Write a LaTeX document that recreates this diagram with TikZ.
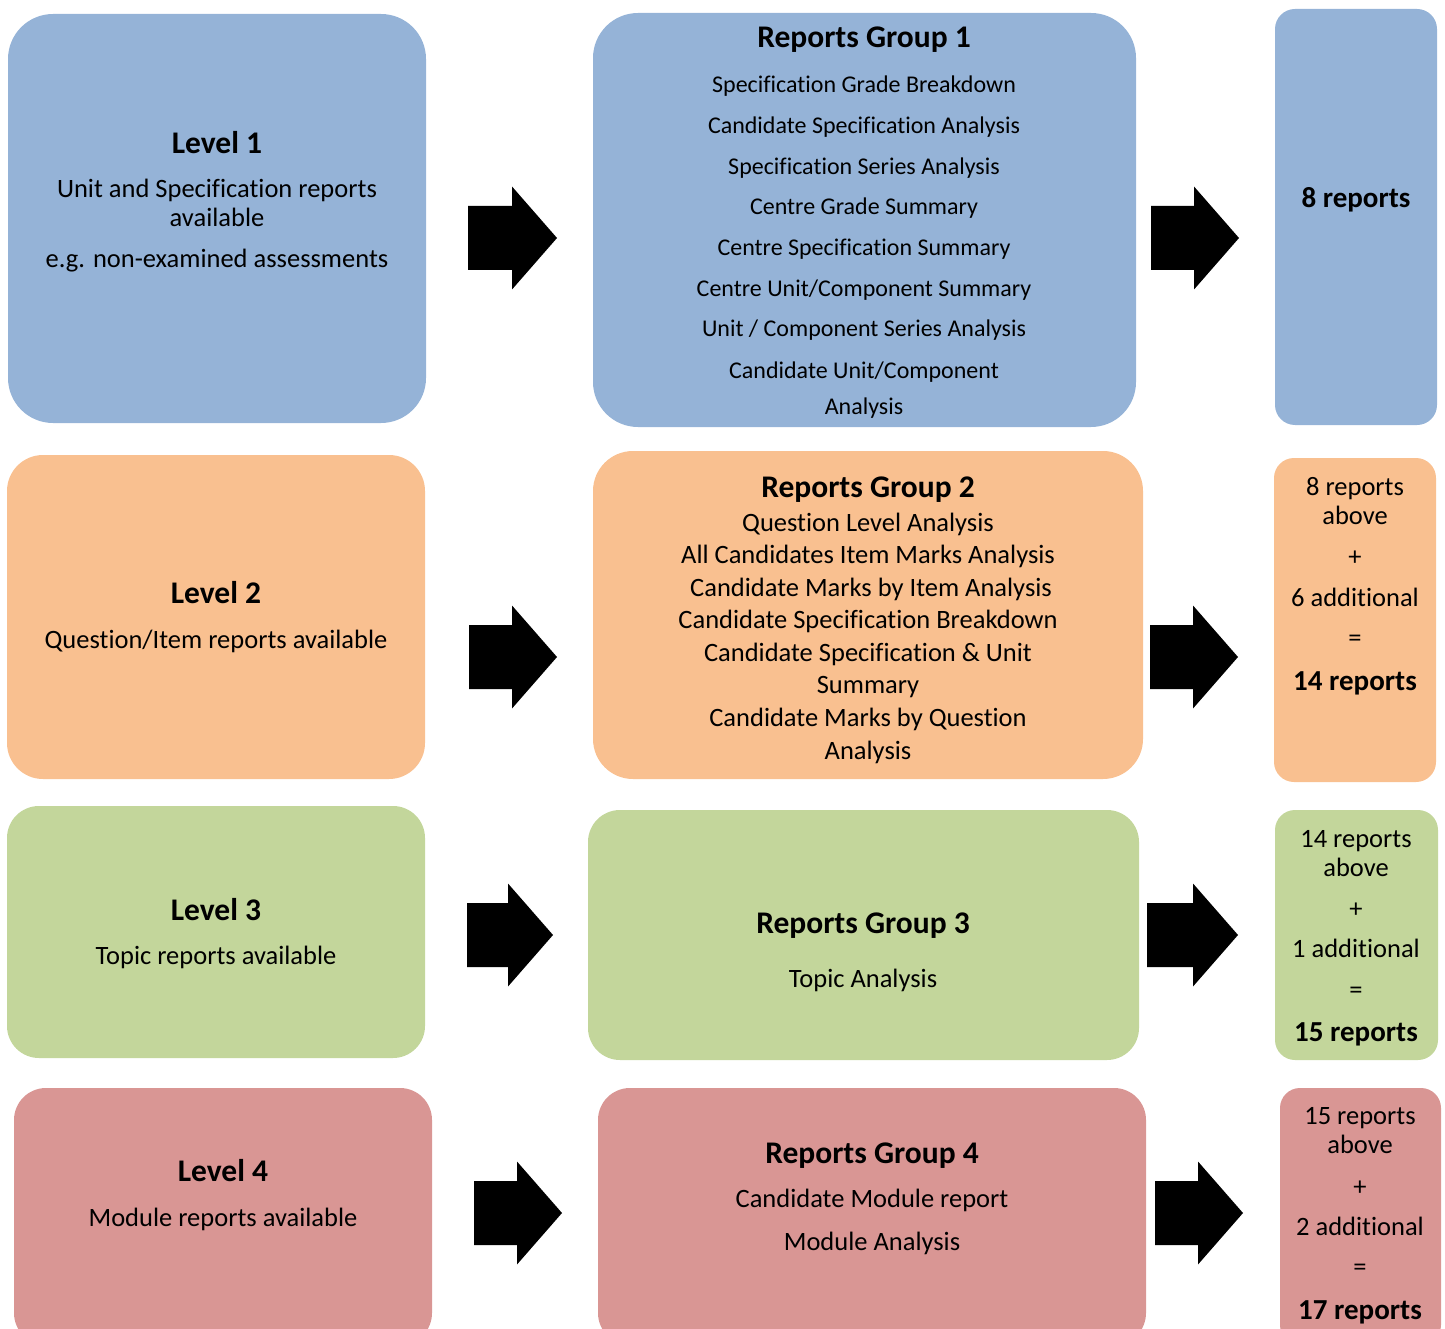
\documentclass[tikz,border=0pt]{standalone}
\usepackage{fontspec}
\setmainfont[Ligatures=NoCommon]{Carlito}
\definecolor{cblue}{HTML}{95B3D7}
\definecolor{corange}{HTML}{F9C090}
\definecolor{cgreen}{HTML}{C3D69B}
\definecolor{cred}{HTML}{D99694}
\tikzset{
  box/.style={rectangle, inner sep=0pt, draw=none},
  tn/.style={anchor=base, inner sep=0pt, yshift=-1pt, font=\fontsize{26.5}{32}\selectfont},
  ts/.style={anchor=base, inner sep=0pt, yshift=-1pt, font=\fontsize{24}{29}\selectfont},
  th/.style={anchor=base, inner sep=0pt, yshift=-1pt, font=\bfseries\fontsize{31.5}{37}\selectfont},
  tr/.style={anchor=base, inner sep=0pt, yshift=-1pt, font=\bfseries\fontsize{29}{35}\selectfont},
  blockarrow/.style={fill=black},
}
\newcommand\barrow[3]{% left x, tip x, tip y
  \fill[blockarrow] (#1,#3-32) -- (#2-45,#3-32) -- (#2-45,#3-51.5) -- (#2,#3)
    -- (#2-45,#3+51.5) -- (#2-45,#3+32) -- (#1,#3+32) -- cycle;}
\begin{document}
\begin{tikzpicture}[x=1pt,y=-1pt]
\useasboundingbox (0,0) rectangle (1445,1329);
% ---------- boxes ----------
\node[box, fill=cblue, rounded corners=45pt, minimum width=418pt, minimum height=409pt] (L1) at (217,218.5) {};
\node[box, fill=cblue, rounded corners=45pt, minimum width=543pt, minimum height=414pt] (G1) at (864.5,220) {};
\node[box, fill=cblue, rounded corners=20pt, minimum width=162pt, minimum height=416pt] (R1) at (1356,217) {};

\node[box, fill=corange, rounded corners=36pt, minimum width=418pt, minimum height=324pt] (L2) at (216,617) {};
\node[box, fill=corange, rounded corners=40pt, minimum width=550pt, minimum height=328pt] (G2) at (868,615) {};
\node[box, fill=corange, rounded corners=20pt, minimum width=162pt, minimum height=324pt] (R2) at (1355,620) {};

\node[box, fill=cgreen, rounded corners=32pt, minimum width=418pt, minimum height=252pt] (L3) at (216,932) {};
\node[box, fill=cgreen, rounded corners=32pt, minimum width=551pt, minimum height=250pt] (G3) at (863.5,935) {};
\node[box, fill=cgreen, rounded corners=20pt, minimum width=163pt, minimum height=250pt] (R3) at (1356.5,935) {};

\node[box, fill=cred, rounded corners=32pt, minimum width=418pt, minimum height=257pt] (L4) at (223,1216.5) {};
\node[box, fill=cred, rounded corners=32pt, minimum width=548pt, minimum height=257pt] (G4) at (872,1216.5) {};
\node[box, fill=cred, rounded corners=20pt, minimum width=161pt, minimum height=257pt] (R4) at (1360.5,1216.5) {};

% ---------- arrows ----------
\barrow{468}{557}{238}
\barrow{1151}{1239}{238}
\barrow{469}{557}{657}
\barrow{1150}{1238}{657}
\barrow{467}{553}{935}
\barrow{1147}{1238}{935}
\barrow{474}{562}{1213}
\barrow{1155}{1243}{1213}

% ---------- row 1 text ----------
\node[th] (l1a) at (217,153) {Level 1};
\node[tn] (l1b) at (217,197) {Unit and Specification reports};
\node[tn] (l1c) at (217,226) {available};
\node[tn] (l1d) at (217,267) {e.g. non-examined assessments};

\node[th] (g1a) at (864,47) {Reports Group 1};
\node[ts] (g1b) at (864,92) {Specification Grade Breakdown};
\node[ts] (g1c) at (864,133) {Candidate Specification Analysis};
\node[ts] (g1d) at (864,174) {Specification Series Analysis};
\node[ts] (g1e) at (864,214) {Centre Grade Summary};
\node[ts] (g1f) at (864,255) {Centre Specification Summary};
\node[ts] (g1g) at (864,296) {Centre Unit/Component Summary};
\node[ts] (g1h) at (864,336) {Unit / Component Series Analysis};
\node[ts] (g1i) at (864,377) {Candidate Unit/Component};
\node[ts] (g1j) at (864,413) {Analysis};

\node[tr] (r1a) at (1356,207) {8 reports};

% ---------- row 2 text ----------
\node[th] (l2a) at (216,602) {Level 2};
\node[tn] (l2b) at (216,647) {Question/Item reports available};

\node[th] (g2a) at (868,496) {Reports Group 2};
\node[tn] (g2b) at (868,530) {Question Level Analysis};
\node[tn] (g2c) at (868,562) {All Candidates Item Marks Analysis};
\node[tn] (g2d) at (871,595) {Candidate Marks by Item Analysis};
\node[tn] (g2e) at (868,627) {Candidate Specification Breakdown};
\node[tn] (g2f) at (868,660) {Candidate Specification \& Unit};
\node[tn] (g2g) at (868,692) {Summary};
\node[tn] (g2h) at (868,725) {Candidate Marks by Question};
\node[tn] (g2i) at (868,758) {Analysis};

\node[tn] (r2a) at (1355,494) {8 reports};
\node[tn] (r2b) at (1355,523) {above};
\node[tn] (r2c) at (1355,564) {+};
\node[tn] (r2d) at (1355,605) {6 additional};
\node[tn] (r2e) at (1355,645) {=};
\node[tr] (r2f) at (1355,689) {14 reports};

% ---------- row 3 text ----------
\node[th] (l3a) at (216,919) {Level 3};
\node[tn] (l3b) at (216,963) {Topic reports available};

\node[th] (g3a) at (863,932) {Reports Group 3};
\node[tn] (g3b) at (863,986) {Topic Analysis};

\node[tn] (r3a) at (1356,846) {14 reports};
\node[tn] (r3b) at (1356,875) {above};
\node[tn] (r3c) at (1356,916) {+};
\node[tn] (r3d) at (1356,956) {1 additional};
\node[tn] (r3e) at (1356,997) {=};
\node[tr] (r3f) at (1356,1040) {15 reports};

% ---------- row 4 text ----------
\node[th] (l4a) at (223,1180) {Level 4};
\node[tn] (l4b) at (223,1225) {Module reports available};

\node[th] (g4a) at (872,1162) {Reports Group 4};
\node[tn] (g4b) at (872,1206) {Candidate Module report};
\node[tn] (g4c) at (872,1249) {Module Analysis};

\node[tn] (r4a) at (1360,1123) {15 reports};
\node[tn] (r4b) at (1360,1152) {above};
\node[tn] (r4c) at (1360,1194) {+};
\node[tn] (r4d) at (1360,1234) {2 additional};
\node[tn] (r4e) at (1360,1274) {=};
\node[tr] (r4f) at (1360,1318) {17 reports};
\end{tikzpicture}
\end{document}
